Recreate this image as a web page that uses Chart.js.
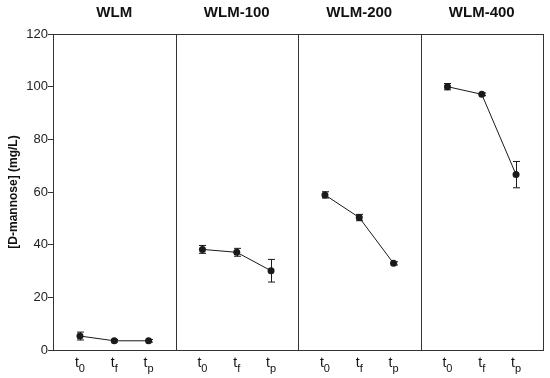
<!DOCTYPE html>
<html>
<head>
<meta charset="utf-8">
<script src="https://cdn.jsdelivr.net/npm/chart.js@4"></script>
<style>
  html, body { margin: 0; padding: 0; background: #fff; }
  #wrap { width: 550px; height: 378px; }
</style>
</head>
<body>
<div id="wrap"><canvas id="mannoseChart"></canvas></div>
<script>
// Dados
const panelNames = ['WLM', 'WLM-100', 'WLM-200', 'WLM-400'];
const timeSubs = ['0', 'f', 'p']; // t0, tf, tp
const wlm    = [5.3, 3.5, 3.5];
const wlm100 = [38.2, 37.1, 30.1];
const wlm200 = [58.9, 50.3, 32.9];
const wlm400 = [100.0, 97.1, 66.6];
const errWlm    = [1.5, 0.5, 0.5];
const errWlm100 = [1.5, 1.5, 4.3];
const errWlm200 = [1.2, 1.2, 0.6];
const errWlm400 = [1.2, 0.5, 5.0];

const series = [wlm, wlm100, wlm200, wlm400];
const errors = [errWlm, errWlm100, errWlm200, errWlm400];

// posição de cada tempo dentro do painel (fração da largura)
const timePos = [0.22, 0.5, 0.78];
const ink = '#1a1a1a';

const datasets = series.map((vals, p) => ({
  label: panelNames[p],
  data: vals.map((v, j) => ({ x: p + timePos[j], y: v })),
  borderColor: ink,
  backgroundColor: ink,
  borderWidth: 1,
  pointRadius: 3.5,
  pointBorderWidth: 0,
  tension: 0
}));

// Plugin: barras de erro, divisórias, títulos e rótulos t0/tf/tp
const panelPlugin = {
  id: 'panels',
  beforeDatasetsDraw(chart) {
    const ctx = chart.ctx;
    const xs = chart.scales.x, ys = chart.scales.y;
    ctx.save();
    ctx.strokeStyle = ink;
    ctx.lineWidth = 1;
    series.forEach((vals, p) => {
      vals.forEach((v, j) => {
        const e = errors[p][j];
        const x = Math.round(xs.getPixelForValue(p + timePos[j])) + 0.5;
        const yt = ys.getPixelForValue(v + e);
        const yb = ys.getPixelForValue(v - e);
        ctx.beginPath();
        ctx.moveTo(x, yt); ctx.lineTo(x, yb);
        ctx.moveTo(x - 3.5, yt); ctx.lineTo(x + 3.5, yt);
        ctx.moveTo(x - 3.5, yb); ctx.lineTo(x + 3.5, yb);
        ctx.stroke();
      });
    });
    ctx.restore();
  },
  afterDraw(chart) {
    const ctx = chart.ctx;
    const xs = chart.scales.x;
    const a = chart.chartArea;
    ctx.save();
    ctx.strokeStyle = '#333';
    ctx.lineWidth = 1;
    // moldura superior e direita + divisórias
    ctx.beginPath();
    ctx.moveTo(a.left, Math.round(a.top) + 0.5);
    ctx.lineTo(a.right, Math.round(a.top) + 0.5);
    for (let p = 1; p <= panelNames.length; p++) {
      const x = Math.round(xs.getPixelForValue(p)) + 0.5;
      ctx.moveTo(x, a.top);
      ctx.lineTo(x, a.bottom);
    }
    ctx.stroke();

    // títulos dos painéis
    ctx.fillStyle = '#111';
    ctx.textAlign = 'center';
    ctx.textBaseline = 'middle';
    ctx.font = 'bold 15px "Liberation Sans", Arial, sans-serif';
    panelNames.forEach((name, p) => {
      ctx.fillText(name, xs.getPixelForValue(p + 0.5), 13);
    });

    // rótulos do eixo x com subscrito
    ctx.textBaseline = 'alphabetic';
    ctx.textAlign = 'left';
    panelNames.forEach((name, p) => {
      timeSubs.forEach((s, j) => {
        const cx = xs.getPixelForValue(p + timePos[j]);
        ctx.font = '14px "Liberation Sans", Arial, sans-serif';
        const wt = ctx.measureText('t').width;
        ctx.font = '11px "Liberation Sans", Arial, sans-serif';
        const ws = ctx.measureText(s).width;
        const x0 = cx - (wt + ws) / 2;
        ctx.font = '14px "Liberation Sans", Arial, sans-serif';
        ctx.fillText('t', x0, a.bottom + 17);
        ctx.font = '11px "Liberation Sans", Arial, sans-serif';
        ctx.fillText(s, x0 + wt, a.bottom + 22);
      });
    });
    ctx.restore();
  }
};

const ctx = document.getElementById('mannoseChart').getContext('2d');
const mannoseChart = new Chart(ctx, {
  type: 'line',
  data: { datasets: datasets },
  options: {
    responsive: true,
    maintainAspectRatio: false,
    animation: false,
    events: [],
    layout: { padding: { top: 34, right: 7, bottom: 28, left: 0 } },
    plugins: {
      legend: { display: false },
      tooltip: { enabled: false }
    },
    scales: {
      x: {
        type: 'linear',
        min: 0,
        max: 4,
        ticks: { display: false },
        grid: { display: false, drawTicks: false },
        border: { display: true, color: '#333', width: 1 },
        afterFit: s => { s.height = 0; }
      },
      y: {
        min: 0,
        max: 120,
        ticks: {
          stepSize: 20,
          color: '#222',
          padding: 0,
          font: { family: '"Liberation Sans", Arial, sans-serif', size: 13 }
        },
        grid: { drawOnChartArea: false, tickLength: 5, color: '#333' },
        border: { display: true, color: '#333', width: 1 },
        title: {
          display: true,
          text: '[D-mannose] (mg/L)',
          color: '#111',
          padding: { top: 6, bottom: 4 },
          font: { family: '"Liberation Sans", Arial, sans-serif', size: 12, weight: 'bold' }
        },
        afterFit: s => { s.width = 53; }
      }
    }
  },
  plugins: [panelPlugin]
});
</script>
</body>
</html>
